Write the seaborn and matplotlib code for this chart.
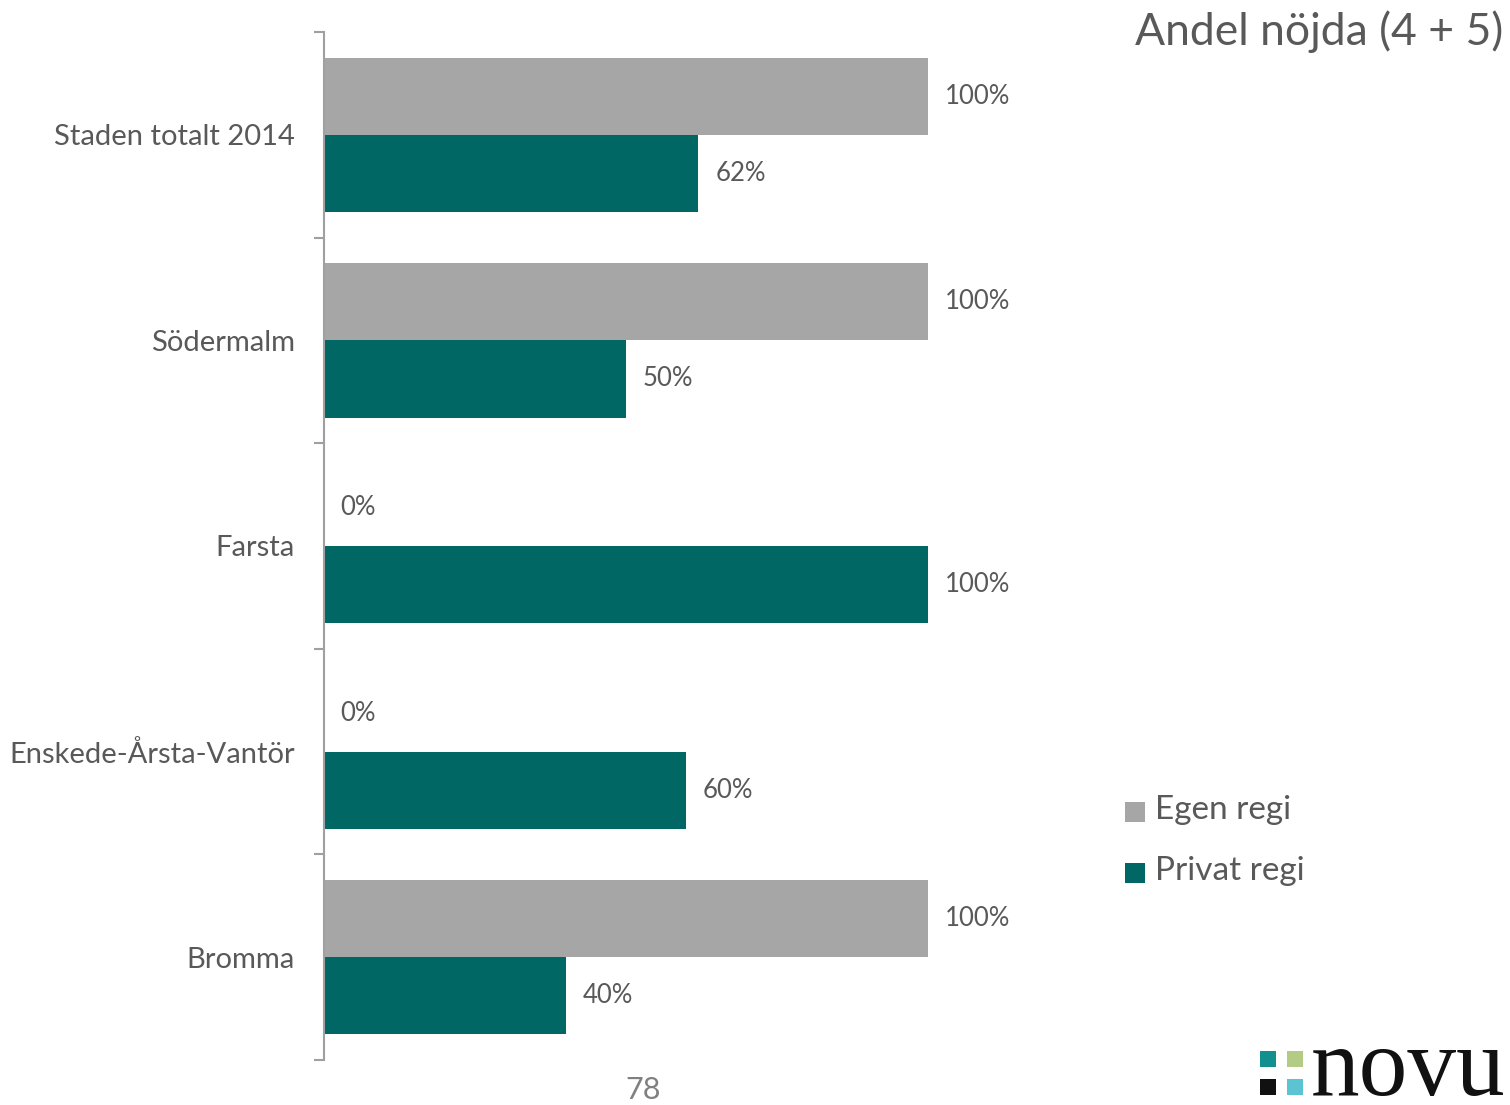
import numpy as np
import pandas as pd
import seaborn as sns
import matplotlib.pyplot as plt
from matplotlib.patches import Rectangle

# chart data
districts = ["Staden totalt 2014", "Södermalm", "Farsta", "Enskede-Årsta-Vantör", "Bromma"]
egen_regi = [100, 100, 0, 0, 100]
privat_regi = [62, 50, 100, 60, 40]
series_names = ["Egen regi", "Privat regi"]
series_colors = ["#A6A6A6", "#006765"]
title_text = "Andel nöjda (4 + 5)"
page_number = "78"

sns.set_theme(style="white")
plt.rcParams['font.family'] = ['Lato', 'DejaVu Sans']
text_color = "#595959"

df = pd.DataFrame({
    "district": districts * 2,
    "value": egen_regi + privat_regi,
    "series": [series_names[0]] * len(districts) + [series_names[1]] * len(districts),
})

fig = plt.figure(figsize=(15.1, 11.05), dpi=100)
ax = fig.add_axes([324 / 1510, 1 - 1060 / 1105, 604 / 1510, 1028 / 1105])

sns.barplot(data=df, x="value", y="district", hue="series", hue_order=series_names,
            palette=series_colors, orient="h", width=0.75, gap=0, saturation=1,
            edgecolor="none", legend=False, ax=ax)

ax.set_xlim(0, 100)
ax.set_ylim(len(districts) - 0.5, -0.5)
ax.set_xlabel("")
ax.set_ylabel("")
ax.set_xticks([])
for s in ["top", "right", "bottom"]:
    ax.spines[s].set_visible(False)
ax.spines["left"].set_color("#A0A0A0")
ax.spines["left"].set_linewidth(1.5)

ax.set_yticks(np.arange(len(districts)))
ax.set_yticklabels(districts, fontsize=21, color=text_color)
ax.tick_params(axis="y", which="major", left=False, pad=15)
ax.set_yticks(np.arange(-0.5, len(districts)), minor=True)
ax.tick_params(axis="y", which="minor", left=True, length=7, width=1.5,
               color="#A0A0A0", direction="out")

# value labels
for container in ax.containers:
    ax.bar_label(container, labels=[f"{v:.0f}%" for v in container.datavalues],
                 padding=12, fontsize=18.5, color=text_color)

# title, legend, page number
fig.text(1503 / 1510, 1 - 32 / 1105, title_text, ha="right", va="center",
         fontsize=32, color=text_color)
for i, (name, col) in enumerate(zip(series_names, series_colors)):
    y = 1 - (812 + 61 * i) / 1105
    fig.patches.append(Rectangle((1125 / 1510, y - 10 / 1105), 20 / 1510, 20 / 1105,
                                 transform=fig.transFigure, facecolor=col, edgecolor="none"))
    fig.text(1155 / 1510, y + 2 / 1105, name, ha="left", va="center", fontsize=24,
             color=text_color)
fig.text(643 / 1510, 1 - 1090 / 1105, page_number, ha="center", va="center",
         fontsize=22, color="#808080")

# novu logo
logo_cols = [["#12908F", "#B3CB82"], ["#111111", "#5CC3D3"]]
for r in range(2):
    for c in range(2):
        fig.patches.append(Rectangle(((1260 + 27 * c) / 1510, 1 - (1067 + 28 * r) / 1105),
                                     16 / 1510, 16 / 1105, transform=fig.transFigure,
                                     facecolor=logo_cols[r][c], edgecolor="none"))
fig.text(1311 / 1510, 1 - 1095 / 1105, "novu", ha="left", va="baseline",
         fontsize=70, family="Liberation Serif", color="#111111")

fig.savefig("out.png", dpi=100)
